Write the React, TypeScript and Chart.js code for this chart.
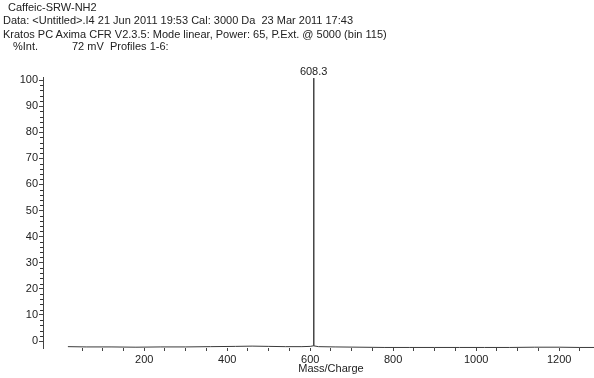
import React, { useEffect, useRef } from "react";
import { Chart, registerables } from "chart.js";

Chart.register(...registerables);

// ---- data ----
const massValues = [16, 60, 120, 180, 240, 300, 360, 420, 460, 500, 540, 580, 600, 607.6, 608.3, 609.0, 620, 660, 720, 780, 840, 900, 960, 1020, 1080, 1140, 1200, 1250, 1284];
const intensityValues = [0.3, 0.2, 0.2, 0.1, 0.2, 0.2, 0.3, 0.4, 0.5, 0.4, 0.3, 0.3, 0.4, 0.6, 100, 0.6, 0.3, 0.2, 0.1, 0, 0, 0, 0, 0, 0, 0.1, 0.1, 0, 0];
const peakLabels = ["608.3"];
const xTickValues = [50, 100, 150, 200, 250, 300, 350, 400, 450, 500, 550, 600, 650, 700, 750, 800, 850, 900, 950, 1000, 1050, 1100, 1150, 1200, 1250];
const yTickValues = [0, 10, 20, 30, 40, 50, 60, 70, 80, 90, 100];
const headerLines = [
  "Caffeic-SRW-NH2",
  "Data: <Untitled>.I4 21 Jun 2011 19:53 Cal: 3000 Da  23 Mar 2011 17:43",
  "Kratos PC Axima CFR V2.3.5: Mode linear, Power: 65, P.Ext. @ 5000 (bin 115)",
];
const intLabel = "%Int.";
const profileLabel = "72 mV  Profiles 1-6:";
const xTitle = "Mass/Charge";

const FONT = "'Liberation Sans', Arial, sans-serif";
const INK = "#222";

export default function App() {
  const ref = useRef<HTMLCanvasElement | null>(null);

  useEffect(() => {
    document.body.style.margin = "0";
    const canvas = ref.current;
    if (!canvas) return;

    const extras = {
      id: "extras",
      afterDraw(chart: any) {
        const ctx = chart.ctx;
        const x = chart.scales.x;
        const y = chart.scales.y;
        const yd = chart.scales.yData;
        const area = chart.chartArea;
        ctx.save();
        // minor y ticks
        ctx.strokeStyle = "#333";
        ctx.lineWidth = 1;
        ctx.beginPath();
        for (let v = 0; v <= 100; v += 2) {
          if (v % 10 === 0) continue;
          const py = Math.round(y.getPixelForValue(v)) + 0.5;
          ctx.moveTo(area.left - 3, py);
          ctx.lineTo(area.left, py);
        }
        ctx.stroke();
        // peak label
        let mi = 0;
        intensityValues.forEach((v, i) => { if (v > intensityValues[mi]) mi = i; });
        const px = x.getPixelForValue(massValues[mi]);
        const py = yd.getPixelForValue(intensityValues[mi]);
        ctx.fillStyle = INK;
        ctx.font = `11px ${FONT}`;
        ctx.textAlign = "center";
        ctx.textBaseline = "alphabetic";
        ctx.fillText(peakLabels[0], px, py - 3);
        // x title, centred under the trace
        const cx = (x.getPixelForValue(massValues[0]) + x.getPixelForValue(massValues[massValues.length - 1])) / 2;
        ctx.textBaseline = "middle";
        ctx.fillText(xTitle, cx, 369);
        ctx.restore();
      },
    };

    const chart = new Chart(canvas, {
      type: "line",
      data: {
        datasets: [
          {
            data: massValues.map((m, i) => ({ x: m, y: intensityValues[i] })),
            borderColor: "#3a3a3a",
            borderWidth: 1,
            pointRadius: 0,
            tension: 0,
            yAxisID: "yData",
            clip: false,
          },
        ],
      },
      options: {
        animation: false,
        responsive: false,
        layout: { padding: { top: 77, left: 0, right: 0, bottom: 0 } },
        plugins: { legend: { display: false }, tooltip: { enabled: false }, title: { display: false } },
        scales: {
          x: {
            type: "linear",
            min: -44,
            max: 1284,
            afterBuildTicks: (s: any) => { s.ticks = xTickValues.map((v) => ({ value: v })); },
            afterFit: (s: any) => { s.height = 30; },
            border: { display: false },
            grid: { drawOnChartArea: false, drawTicks: true, tickLength: 3, color: "#444" },
            ticks: {
              autoSkip: false,
              maxRotation: 0,
              padding: 2,
              color: INK,
              font: { family: FONT, size: 11 },
              callback: (v: any) => (Number(v) % 200 === 0 ? String(v) : ""),
            },
          },
          y: {
            type: "linear",
            position: "left",
            min: -2.68,
            max: 101.15,
            afterBuildTicks: (s: any) => { s.ticks = yTickValues.map((v) => ({ value: v })); },
            afterFit: (s: any) => { s.width = 43; },
            border: { display: true, color: "#444", width: 1 },
            grid: { drawOnChartArea: false, drawTicks: true, tickLength: 4, color: "#444" },
            ticks: { padding: 1, color: INK, font: { family: FONT, size: 11 } },
          },
          yData: {
            type: "linear",
            display: false,
            min: -0.2,
            max: 100.4,
          },
        },
      },
      plugins: [extras],
    });
    return () => chart.destroy();
  }, []);

  const lineStyle = (top: number, left: number): React.CSSProperties => ({
    position: "absolute",
    top,
    left,
    fontFamily: FONT,
    fontSize: 11,
    lineHeight: "13px",
    color: INK,
    whiteSpace: "pre",
  });

  return (
    <div style={{ position: "relative", width: 594, height: 378, background: "#fff" }}>
      <canvas ref={ref} width={594} height={378} style={{ position: "absolute", left: 0, top: 0 }} />
      <div style={lineStyle(1, 8)}>{headerLines[0]}</div>
      <div style={lineStyle(14, 3)}>{headerLines[1]}</div>
      <div style={lineStyle(28, 3)}>{headerLines[2]}</div>
      <div style={lineStyle(40, 13)}>{intLabel}</div>
      <div style={lineStyle(40, 72)}>{profileLabel}</div>
    </div>
  );
}
